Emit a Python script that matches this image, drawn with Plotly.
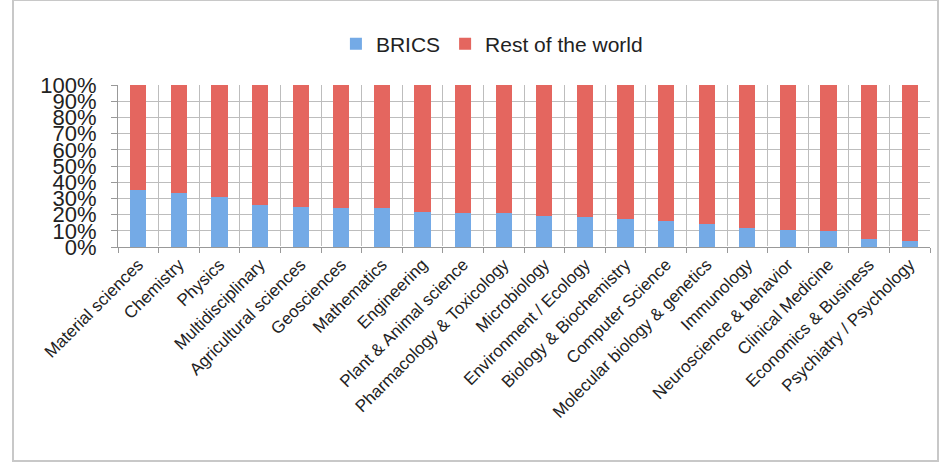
import plotly.graph_objects as go

fields = ["Material sciences", "Chemistry", "Physics", "Multidisciplinary",
          "Agricultural sciences", "Geosciences", "Mathematics", "Engineering",
          "Plant & Animal science", "Pharmacology & Toxicology", "Microbiology",
          "Environment / Ecology", "Biology & Biochemistry", "Computer Science",
          "Molecular biology & genetics", "Immunology", "Neuroscience & behavior",
          "Clinical Medicine", "Economics & Business", "Psychiatry / Psychology"]
brics = [35, 33.4, 31, 25.9, 24.8, 24.2, 23.8, 21.4, 20.8, 20.8,
         19.1, 18.3, 17.1, 16.3, 14.1, 11.6, 10.4, 9.8, 5.1, 3.7]
rest = [65, 66.6, 69, 74.1, 75.2, 75.8, 76.2, 78.6, 79.2, 79.2,
        80.9, 81.7, 82.9, 83.7, 85.9, 88.4, 89.6, 90.2, 94.9, 96.3]
y_ticks = [0, 10, 20, 30, 40, 50, 60, 70, 80, 90, 100]

font = "Liberation Sans, Arial, sans-serif"

fig = go.Figure()
fig.add_trace(go.Bar(x=fields, y=brics, name="BRICS",
                     marker=dict(color="#74aae6", line=dict(width=0))))
fig.add_trace(go.Bar(x=fields, y=rest, name="Rest of the world",
                     marker=dict(color="#e4665f", line=dict(width=0))))

W, H = 946, 463
L, R, T, B = 118, 16, 85, 216
pw, ph = W - L - R, H - T - B


def px_x(p):
    return (p - L) / pw


def px_y(p):
    return (H - B - p) / ph


fig.update_layout(
    width=W, height=H,
    barmode="stack", bargap=0.6,
    margin=dict(l=L, r=R, t=T, b=B, autoexpand=False),
    paper_bgcolor="white", plot_bgcolor="white",
    font=dict(family=font, color="#222"),
    legend=dict(orientation="h", xref="container", yref="container",
                x=0.52, y=0.905, xanchor="center", yanchor="middle",
                traceorder="normal",
                font=dict(size=21), itemwidth=30),
    xaxis=dict(tickangle=-45, tickfont=dict(size=17), tickson="boundaries",
               ticks="outside", ticklen=5, tickcolor="#999", automargin=False,
               showgrid=True, gridcolor="#bdbdbd", showline=True,
               linecolor="#999", mirror=False),
    yaxis=dict(range=[0, 100], tickvals=y_ticks,
               ticktext=[f"{v}%" for v in y_ticks], automargin=False,
               tickfont=dict(size=22), ticks="outside", ticklen=6,
               tickcolor="#999", ticklabelstandoff=10,
               showgrid=True, gridcolor="#bdbdbd", showline=True,
               linecolor="#999"),
    shapes=[dict(type="rect", xref="paper", yref="paper",
                 x0=px_x(13), x1=px_x(938), y0=px_y(461), y1=px_y(0),
                 line=dict(color="#c8c8c8", width=2), layer="below")],
)

fig.write_html("out.html", config={"displayModeBar": False},
               post_script="document.body.style.margin='0px';")
